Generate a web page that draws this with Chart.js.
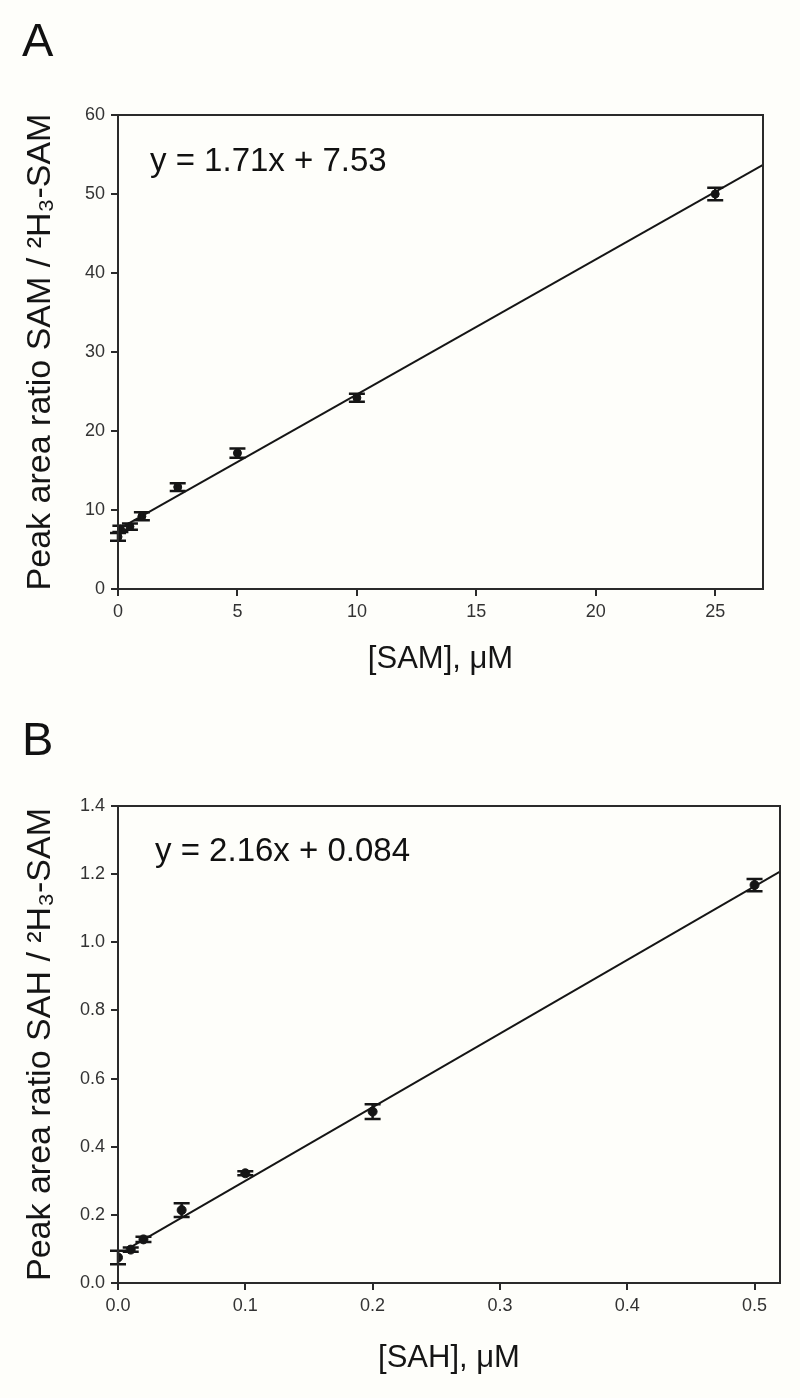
<!DOCTYPE html>
<html>
<head>
<meta charset="utf-8">
<script src="https://cdn.jsdelivr.net/npm/chart.js@4.4.1/dist/chart.umd.min.js"></script>
<style>
  body { margin: 0; background: #fefefa; font-family: "Liberation Sans", Arial, sans-serif; }
  .panel { position: relative; width: 800px; height: 699px; }
  .letter { position: absolute; left: 22px; top: 12px; font-size: 47px; color: #111; }
  .eq { position: absolute; font-size: 33px; color: #111; }
</style>
</head>
<body>
<div class="panel">
  <div class="letter">A</div>
  <div class="eq" style="left:150px; top:141px;">y = 1.71x + 7.53</div>
  <canvas id="chartA" width="800" height="699"></canvas>
</div>
<div class="panel">
  <div class="letter">B</div>
  <div class="eq" style="left:155px; top:132px;">y = 2.16x + 0.084</div>
  <canvas id="chartB" width="800" height="699"></canvas>
</div>
<script>
// panel A: SAM calibration
const samConc = [0, 0.1, 0.5, 1, 2.5, 5, 10, 25];
const samRatio = [6.6, 7.6, 7.9, 9.2, 12.9, 17.2, 24.2, 50.0];
const samErr = [0.5, 0.4, 0.4, 0.5, 0.5, 0.6, 0.5, 0.8];
const samFit = [1.71, 7.53]; // slope, intercept
const samXTicks = [0, 5, 10, 15, 20, 25];
const samYTicks = [0, 10, 20, 30, 40, 50, 60];

// panel B: SAH calibration
const sahConc = [0, 0.01, 0.02, 0.05, 0.1, 0.2, 0.5];
const sahRatio = [0.075, 0.098, 0.128, 0.214, 0.322, 0.503, 1.168];
const sahErr = [0.02, 0.006, 0.008, 0.02, 0.006, 0.022, 0.018];
const sahFit = [2.16, 0.084];
const sahXTicks = [0, 0.1, 0.2, 0.3, 0.4, 0.5];
const sahYTicks = [0, 0.2, 0.4, 0.6, 0.8, 1.0, 1.2, 1.4];

const FONT = "'Liberation Sans', Arial, sans-serif";
const INK = "#151515";

const frame = {
  id: "frame",
  afterDraw(chart) {
    const { ctx, chartArea: a } = chart;
    ctx.save();
    ctx.strokeStyle = "#2a2a2a";
    ctx.lineWidth = 2;
    ctx.strokeRect(a.left, a.top, a.right - a.left, a.bottom - a.top);
    ctx.restore();
  }
};

const errorBars = {
  id: "errorBars",
  afterDatasetsDraw(chart, args, opts) {
    const { ctx, scales: { x, y } } = chart;
    const pts = chart.data.datasets[1].data;
    ctx.save();
    ctx.strokeStyle = INK;
    ctx.lineWidth = 2.5;
    pts.forEach((p, i) => {
      const px = x.getPixelForValue(p.x);
      const t = y.getPixelForValue(p.y + opts.errors[i]);
      const b = y.getPixelForValue(p.y - opts.errors[i]);
      ctx.beginPath();
      ctx.moveTo(px, t); ctx.lineTo(px, b);
      ctx.moveTo(px - 8, t); ctx.lineTo(px + 8, t);
      ctx.moveTo(px - 8, b); ctx.lineTo(px + 8, b);
      ctx.stroke();
    });
    ctx.restore();
  }
};

function makeChart(id, xs, ys, errs, fit, xTicks, yTicks, xMax, yMax, xStart, xTitle, yTitle, decimals, pad, ptRadius) {
  const ctx = document.getElementById(id).getContext("2d");
  return new Chart(ctx, {
    type: "scatter",
    data: {
      datasets: [
        {
          type: "line",
          data: [
            { x: xStart, y: fit[0] * xStart + fit[1] },
            { x: xMax, y: fit[0] * xMax + fit[1] }
          ],
          borderColor: INK,
          borderWidth: 2,
          pointRadius: 0,
          fill: false
        },
        {
          data: xs.map((x, i) => ({ x: x, y: ys[i] })),
          backgroundColor: INK,
          borderColor: INK,
          pointRadius: ptRadius
        }
      ]
    },
    options: {
      responsive: false,
      animation: false,
      layout: { padding: { top: pad.top, right: pad.right, left: 0, bottom: 0 } },
      plugins: {
        legend: { display: false },
        tooltip: { enabled: false },
        errorBars: { errors: errs }
      },
      scales: {
        x: {
          type: "linear",
          min: 0,
          max: xMax,
          afterBuildTicks: s => { s.ticks = xTicks.map(v => ({ value: v })); },
          afterFit: s => { s.height = pad.xAxis; },
          ticks: {
            color: "#333",
            font: { family: FONT, size: 18 },
            padding: 5,
            callback: v => v.toFixed(decimals)
          },
          grid: { display: true, drawOnChartArea: false, drawTicks: true, tickLength: 7, color: "#2a2a2a", lineWidth: 2 },
          border: { display: true, color: "#2a2a2a", width: 2 },
          title: { display: true, text: xTitle, color: INK, font: { family: FONT, size: 31 }, padding: { top: 0, bottom: 21 } }
        },
        y: {
          type: "linear",
          min: 0,
          max: yMax,
          afterBuildTicks: s => { s.ticks = yTicks.map(v => ({ value: v })); },
          afterFit: s => { s.width = 118; },
          ticks: {
            color: "#333",
            font: { family: FONT, size: 18 },
            padding: 6,
            callback: v => v.toFixed(decimals)
          },
          grid: { display: true, drawOnChartArea: false, drawTicks: true, tickLength: 7, color: "#2a2a2a", lineWidth: 2 },
          border: { display: true, color: "#2a2a2a", width: 2 },
          title: { display: true, text: yTitle, color: INK, font: { family: FONT, size: 34 }, padding: { top: 20, bottom: 0 } }
        }
      }
    },
    plugins: [frame, errorBars]
  });
}

makeChart("chartA", samConc, samRatio, samErr, samFit, samXTicks, samYTicks, 27, 60, 0.1,
  "[SAM], μM", "Peak area ratio SAM / ²H₃-SAM", 0, { top: 115, right: 37, xAxis: 110 }, 4);

makeChart("chartB", sahConc, sahRatio, sahErr, sahFit, sahXTicks, sahYTicks, 0.52, 1.4, 0.01,
  "[SAH], μM", "Peak area ratio SAH / ²H₃-SAM", 1, { top: 107, right: 20, xAxis: 115 }, 4.5);
</script>
</body>
</html>
